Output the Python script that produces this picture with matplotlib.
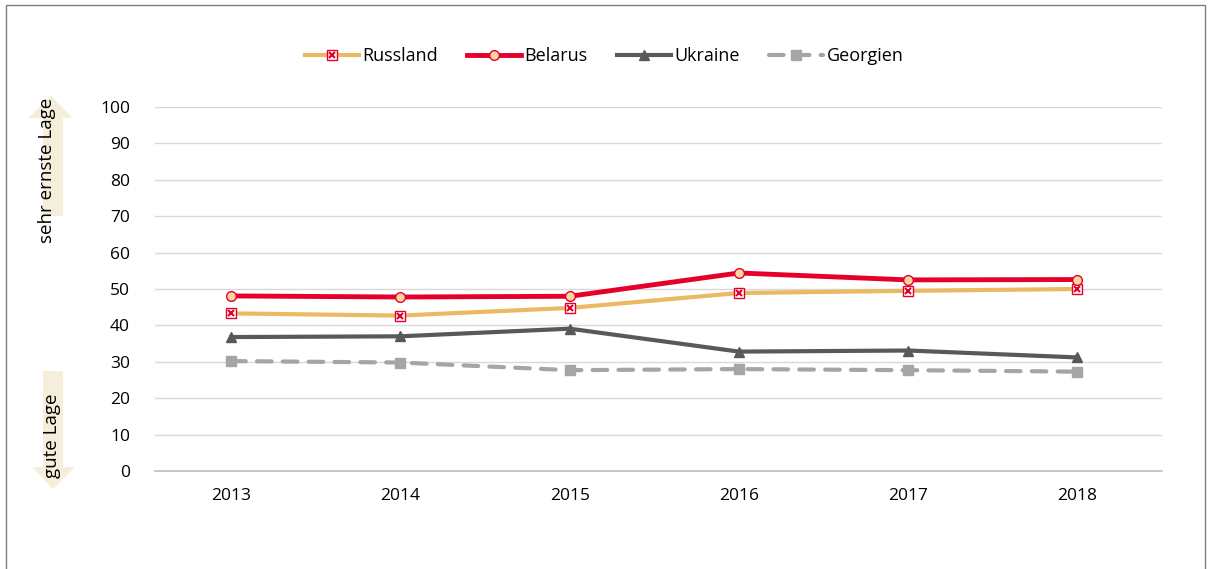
import matplotlib
matplotlib.use("Agg")
import matplotlib.pyplot as plt
import matplotlib.patches as mpatches
from matplotlib.legend_handler import HandlerTuple

plt.rcParams['font.family'] = ['Open Sans', 'DejaVu Sans']

years = ["2013", "2014", "2015", "2016", "2017", "2018"]
russland = [43.3, 42.7, 44.8, 48.9, 49.5, 50.0]
belarus = [48.1, 47.8, 48.0, 54.4, 52.5, 52.6]
ukraine = [36.8, 37.0, 39.1, 32.8, 33.1, 31.2]
georgien = [30.2, 29.8, 27.7, 28.0, 27.7, 27.3]
yticks = list(range(0, 101, 10))

W, H = 1213, 569
fig = plt.figure(figsize=(W / 100, H / 100), dpi=100)
ax = fig.add_axes([155 / W, (H - 471) / H, (1162 - 155) / W, (471 - 107) / H])

x = range(len(years))
h_ru, = ax.plot(x, russland, color="#ebb863", lw=3, marker="s", ms=7,
                mfc="white", mec="#e4002b", mew=1, zorder=3)
h_rux, = ax.plot(x, russland, ls="none", marker="x", ms=5, mec="#e4002b",
                 mew=1.5, zorder=4)
h_be, = ax.plot(x, belarus, color="#e4002b", lw=3.5, marker="o", ms=7,
                mfc="#f8d6a0", mec="#e4002b", mew=1, zorder=3)
h_uk, = ax.plot(x, ukraine, color="#595959", lw=3, marker="^", ms=7,
                mfc="#595959", mec="#595959", zorder=3)
h_ge, = ax.plot(x, georgien, color="#a5a5a5", lw=3, ls=(0, (3.5, 2.7)),
                dash_capstyle="round", marker="s", ms=7, mfc="#a5a5a5",
                mec="#a5a5a5", zorder=3)

ax.set_xlim(-0.45, 5.5)
ax.set_ylim(0, 100)
ax.set_yticks(yticks)
ax.set_xticks(list(x))
ax.set_xticklabels(years)
ax.tick_params(length=0, labelsize=12.5, colors="black")
ax.tick_params(axis="y", pad=18)
ax.tick_params(axis="x", pad=12)
ax.yaxis.grid(True, color="#d9d9d9", lw=1)
ax.set_axisbelow(True)
for s in ["top", "right", "left"]:
    ax.spines[s].set_visible(False)
ax.spines["bottom"].set_color("#bfbfbf")
ax.spines["bottom"].set_linewidth(1.2)

fig.legend([(h_ru, h_rux), h_be, h_uk, h_ge],
           ["Russland", "Belarus", "Ukraine", "Georgien"],
           handler_map={tuple: HandlerTuple(ndivide=1)},
           loc="center", bbox_to_anchor=(604 / W, (H - 56) / H), ncol=4,
           frameon=False, fontsize=13, handlelength=3.0, columnspacing=1.6,
           handletextpad=0.2)


def px(xp, yp):
    return (xp / W, (H - yp) / H)


beige = "#f5eedb"
up = [px(43, 216), px(63, 216), px(63, 118), px(73, 118), px(51, 96),
      px(28, 118), px(43, 118)]
down = [px(43, 371), px(63, 371), px(63, 467), px(75, 467), px(53, 489),
        px(32, 467), px(43, 467)]
for pts in (up, down):
    fig.patches.append(mpatches.Polygon(pts, closed=True, transform=fig.transFigure,
                                        facecolor=beige, edgecolor="none"))
fig.text(47 / W, (H - 170) / H, "sehr ernste Lage", rotation=90, ha="center",
         va="center", fontsize=13.5)
fig.text(52 / W, (H - 436) / H, "gute Lage", rotation=90, ha="center",
         va="center", fontsize=13.5)

fig.patches.append(mpatches.Rectangle((6 / W, -0.05), (1205 - 6) / W, (H - 5) / H + 0.05,
                                      transform=fig.transFigure, fill=False,
                                      edgecolor="#7f7f7f", lw=1))

fig.savefig("out.png", dpi=100)
